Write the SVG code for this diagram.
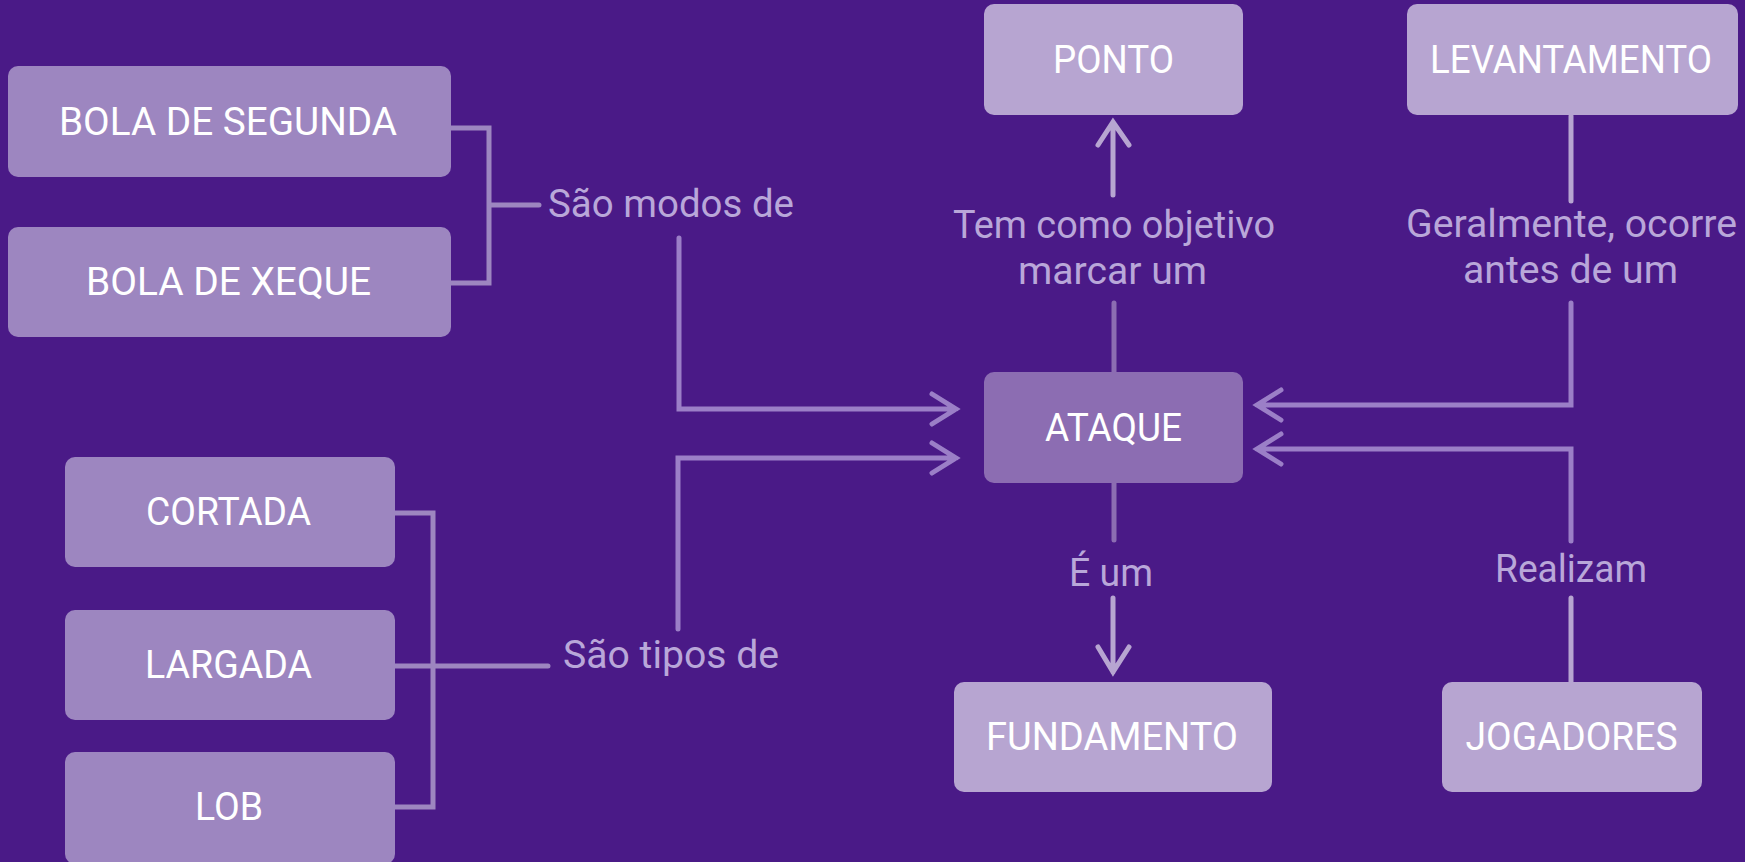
<svg xmlns="http://www.w3.org/2000/svg" width="1745" height="862" viewBox="0 0 1745 862">
<defs>
<style>
.bg{fill:#4a1a87}
.nl{fill:#9d86c0}
.nr{fill:#b7a5d1}
.nc{fill:#8c6db2}
.nt{font-family:Roboto,"Liberation Sans",sans-serif;font-size:39px;font-weight:400;fill:#ffffff;text-anchor:middle}
.lb{font-family:Roboto,"Liberation Sans",sans-serif;font-size:38px;fill:#b9a7d9}
.c{fill:none;stroke-width:5;stroke-linecap:round;stroke-linejoin:miter}
.cl{stroke:#9d86c0}
.cm{stroke:#9b7fc7}
.cc{stroke:#8c6db2}
.cr{stroke:#b7a5d1}
</style>
</defs>
<rect class="bg" x="0" y="0" width="1745" height="862"/>
<g id="connectors">
<path class="c cl" d="M451,128 H489 V283 H451 M489,205 H539"/>
<path class="c cm" d="M679,238 V409 H956 M932,394 L956,409 L932,424"/>
<path class="c cl" d="M395,513 H433 V807 H395 M395,666 H548"/>
<path class="c cm" d="M678,629 V458 H956 M932,443 L956,458 L932,473"/>
<path class="c cc" d="M1114,372 V303"/>
<path class="c cr" d="M1113,195 V122 M1098,145 L1113,122 L1129,145"/>
<path class="c cr" d="M1571,116 V201"/>
<path class="c cm" d="M1571,303 V405 H1257 M1281,390 L1257,405 L1281,420"/>
<path class="c cr" d="M1571,682 V598"/>
<path class="c cm" d="M1571,541 V449 H1257 M1281,434 L1257,449 L1281,464"/>
<path class="c cc" d="M1114,483 V540"/>
<path class="c cr" d="M1113,598 V672 M1098,647 L1113,672 L1129,647"/>
</g>
<g id="labels">
<text class="lb" x="548" y="217" textLength="246" lengthAdjust="spacingAndGlyphs">São modos de</text>
<text class="lb" x="563" y="668" textLength="216" lengthAdjust="spacingAndGlyphs">São tipos de</text>
<text class="lb" x="953" y="238" textLength="322" lengthAdjust="spacingAndGlyphs">Tem como objetivo</text>
<text class="lb" x="1018" y="284" textLength="189" lengthAdjust="spacingAndGlyphs">marcar um</text>
<text class="lb" x="1406" y="237" textLength="331" lengthAdjust="spacingAndGlyphs">Geralmente, ocorre</text>
<text class="lb" x="1463" y="283" textLength="215" lengthAdjust="spacingAndGlyphs">antes de um</text>
<text class="lb" x="1069" y="586" textLength="84" lengthAdjust="spacingAndGlyphs">É um</text>
<text class="lb" x="1495" y="582" textLength="152" lengthAdjust="spacingAndGlyphs">Realizam</text>
</g>
<g id="bola-de-segunda"><rect class="nl" x="8" y="66" width="443" height="111" rx="10"/><text class="nt" x="228" y="135" textLength="338" lengthAdjust="spacingAndGlyphs">BOLA DE SEGUNDA</text></g>
<g id="bola-de-xeque"><rect class="nl" x="8" y="227" width="443" height="110" rx="10"/><text class="nt" x="228.5" y="295" textLength="285" lengthAdjust="spacingAndGlyphs">BOLA DE XEQUE</text></g>
<g id="cortada"><rect class="nl" x="65" y="457" width="330" height="110" rx="10"/><text class="nt" x="228.5" y="525" textLength="165" lengthAdjust="spacingAndGlyphs">CORTADA</text></g>
<g id="largada"><rect class="nl" x="65" y="610" width="330" height="110" rx="10"/><text class="nt" x="228.5" y="678" textLength="167" lengthAdjust="spacingAndGlyphs">LARGADA</text></g>
<g id="lob"><rect class="nl" x="65" y="752" width="330" height="112" rx="10"/><text class="nt" x="229" y="820" textLength="68" lengthAdjust="spacingAndGlyphs">LOB</text></g>
<g id="ponto"><rect class="nr" x="984" y="4" width="259" height="111" rx="10"/><text class="nt" x="1113.5" y="72.5" textLength="121" lengthAdjust="spacingAndGlyphs">PONTO</text></g>
<g id="levantamento"><rect class="nr" x="1407" y="4" width="331" height="111" rx="10"/><text class="nt" x="1571" y="72.5" textLength="282" lengthAdjust="spacingAndGlyphs">LEVANTAMENTO</text></g>
<g id="ataque"><rect class="nc" x="984" y="372" width="259" height="111" rx="10"/><text class="nt" x="1113.5" y="440.5" textLength="137" lengthAdjust="spacingAndGlyphs">ATAQUE</text></g>
<g id="fundamento"><rect class="nr" x="954" y="682" width="318" height="110" rx="10"/><text class="nt" x="1112" y="750" textLength="252" lengthAdjust="spacingAndGlyphs">FUNDAMENTO</text></g>
<g id="jogadores"><rect class="nr" x="1442" y="682" width="260" height="110" rx="10"/><text class="nt" x="1571.5" y="750" textLength="212" lengthAdjust="spacingAndGlyphs">JOGADORES</text></g>
</svg>
